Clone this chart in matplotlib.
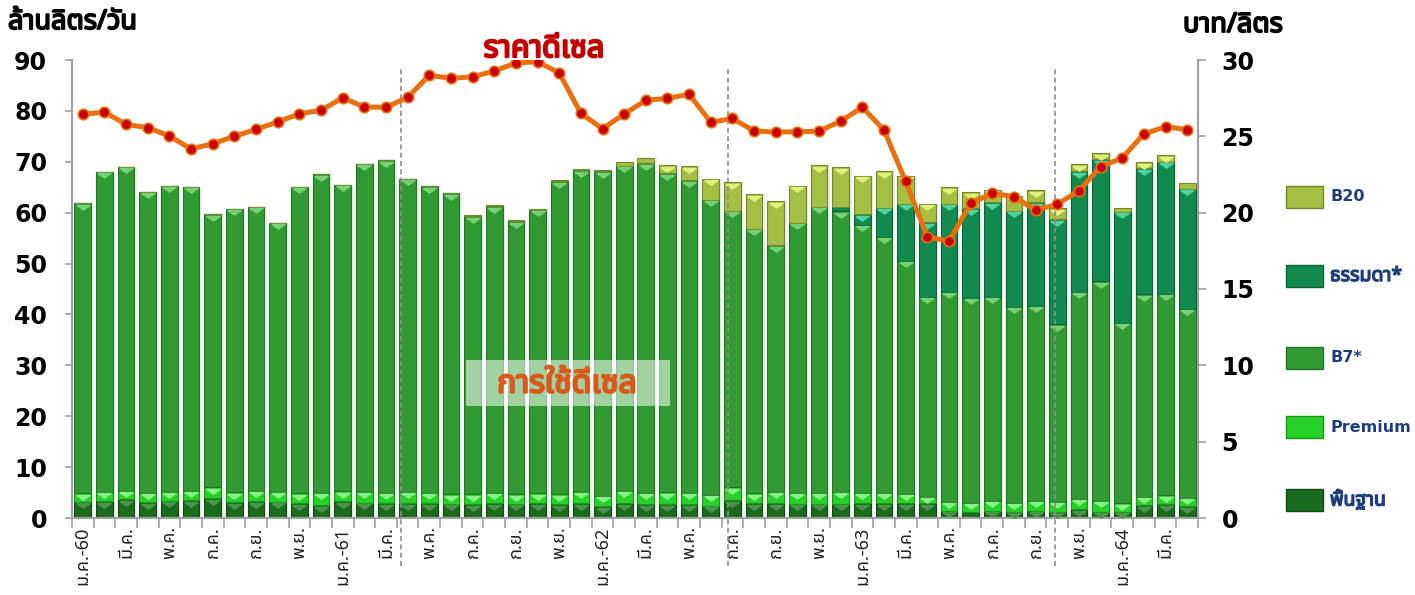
import numpy as np
import matplotlib
matplotlib.use("Agg")
import matplotlib.pyplot as plt
import matplotlib.patheffects as pe
from matplotlib import font_manager
from matplotlib.ft2font import FT2Font
from matplotlib.path import Path
from matplotlib.patches import Rectangle

# monthly diesel use, million litres/day, Jan 2017 (ม.ค.-60) .. Apr 2021
tick_labels = ["ม.ค.-60", "มี.ค.", "พ.ค.", "ก.ค.", "ก.ย.", "พ.ย.",
               "ม.ค.-61", "มี.ค.", "พ.ค.", "ก.ค.", "ก.ย.", "พ.ย.",
               "ม.ค.-62", "มี.ค.", "พ.ค.", "ก.ค.", "ก.ย.", "พ.ย.",
               "ม.ค.-63", "มี.ค.", "พ.ค.", "ก.ค.", "ก.ย.", "พ.ย.",
               "ม.ค.-64", "มี.ค."]

base = [3.2, 3.3, 3.7, 3.1, 3.4, 3.5, 3.9, 3.1, 3.3, 3.2, 2.9, 2.55,
        3.3, 3.0, 2.9, 2.9, 2.9, 2.8, 2.7, 2.9, 2.8, 2.9, 2.7, 2.9,
        2.35, 2.9, 2.7, 2.7, 2.7, 2.4, 3.5, 2.9, 2.9, 2.8, 2.8, 2.8,
        2.9, 2.9, 2.9, 2.9, 1.45, 1.1, 1.45, 1.25, 1.45, 1.25, 1.7, 1.25,
        1.25, 2.55, 2.7, 2.35]
premium = [1.65, 1.9, 1.7, 1.9, 1.8, 1.9, 2.1, 2.0, 2.1, 2.0, 1.95, 2.45,
           2.0, 2.2, 2.1, 2.3, 2.1, 1.9, 2.0, 2.1, 1.9, 1.95, 2.0, 2.3,
           2.05, 2.5, 2.3, 2.4, 2.3, 2.2, 2.5, 2.0, 2.3, 2.2, 2.2, 2.4,
           2.1, 2.1, 1.9, 1.3, 1.75, 1.9, 1.95, 1.75, 1.95, 1.95, 2.1, 2.15,
           1.65, 1.65, 1.75, 1.65]
b7 = [57.0, 62.8, 63.6, 59.1, 60.1, 59.7, 53.7, 55.7, 55.8, 52.8, 60.2, 62.5,
      60.2, 64.4, 65.3, 61.5, 60.2, 59.1, 54.6, 56.3, 53.6, 55.7, 61.5, 63.1,
      63.7, 63.8, 64.7, 62.6, 61.4, 57.9, 54.4, 51.9, 48.4, 53.0, 56.2, 55.1,
      52.6, 50.3, 45.8, 39.3, 41.3, 40.3, 40.1, 38.5, 38.3, 34.9, 40.7, 43.1,
      35.5, 39.8, 39.6, 37.1]
regular = [0] * 35 + [0.9, 2.1, 5.7, 11.2, 14.6, 17.3, 17.6, 18.5, 18.9,
                      20.3, 20.6, 23.6, 24.0, 21.8, 24.7, 26.0, 23.6]
b20 = [0] * 18 + [0.2, 0.2, 0.2, 0.2, 0.2, 0.3, 0.3, 0.7, 1.0, 1.6, 2.7,
                  4.2, 5.6, 6.8, 8.6, 7.3, 8.1, 7.7, 7.6, 7.1, 5.5, 3.7,
                  3.2, 3.1, 2.5, 2.8, 2.4, 2.2, 1.4, 1.2, 0.8, 1.2, 1.2, 1.1]

# diesel price, baht/litre
price = [26.44, 26.59, 25.78, 25.57, 25.02, 24.17, 24.52, 25.0, 25.46, 25.94,
         26.48, 26.7, 27.53, 26.92, 26.9, 27.55, 29.0, 28.8, 28.9, 29.28,
         29.8, 29.89, 29.15, 26.5, 25.5, 26.46, 27.36, 27.49, 27.75, 25.92,
         26.17, 25.35, 25.28, 25.3, 25.33, 26.0, 26.9, 25.41, 22.05, 18.43,
         18.12, 20.61, 21.27, 21.05, 20.17, 20.55, 21.44, 23.01, 23.58, 25.15,
         25.63, 25.44]


def thai_font():
    names = {f.name for f in font_manager.fontManager.ttflist}
    for name in ["Tahoma", "Noto Sans Thai", "Noto Sans Thai UI", "Loma",
                 "Garuda", "Sarabun", "Umpush", "Kinnari", "Norasi"]:
        if name in names:
            return name
    for f in font_manager.fontManager.ttflist:
        try:
            if 0x0E01 in FT2Font(f.fname).get_charmap():
                return f.name
        except Exception:
            continue
    return None


tf = thai_font()
thai = [tf, "DejaVu Sans"] if tf else ["DejaVu Sans"]
plt.rcParams["font.family"] = ["DejaVu Sans"]


def heavy(color, w=1.3):
    # Thai font has no bold face here, thicken with a stroke
    return [pe.withStroke(linewidth=w, foreground=color)]


W, H = 1415, 595


def fx(px):
    return px / W


def fy(py):
    return 1 - py / H


fig = plt.figure(figsize=(W / 100, H / 100), dpi=100)
ax = fig.add_axes([fx(72), fy(518), fx(1198) - fx(72), fy(60) - fy(518)])

x = np.arange(len(price))
layers = [
    ("พื้นฐาน", base, "#1B6B1E", "#0F4A14", "#4A954C"),
    ("Premium", premium, "#27D127", "#179A17", "#86F286"),
    ("B7*", b7, "#329A32", "#237526", "#74D174"),
    ("ธรรมดา*", regular, "#118A4E", "#0A6236", "#4FD3A0"),
    ("B20", b20, "#A5BF45", "#74872A", "#E0F078"),
]

# flat "v" bevel drawn near the top of each segment
tri = Path([(-1, 0), (1, 0), (0, -0.7), (-1, 0)])

totals = np.sum([np.asarray(v) for _, v, *_ in layers], axis=0)
ax.bar(x + 0.06, totals, width=0.9, color="#DADADA", alpha=0.45, zorder=1)

bottom = np.zeros(len(x))
for name, vals, face, edge, hi in layers:
    vals = np.asarray(vals, dtype=float)
    ax.bar(x, vals, 0.77, bottom=bottom, color=face, edgecolor=edge,
           linewidth=0.8, zorder=2)
    tops = bottom + vals
    m = vals >= 1.2
    ax.plot(x[m], tops[m] - 0.3, linestyle="none", marker=tri,
            markersize=9.5, color=hi, zorder=3)
    bottom = tops

# vertical dividers
for pos in [14.7, 29.8, 44.9]:
    ax.plot([pos, pos], [-0.105, 0.983], transform=ax.get_xaxis_transform(),
            color="#8C8C8C", lw=1.2, ls=(0, (3, 2)), clip_on=False, zorder=4)

ax.set_xlim(-0.5, len(x) - 0.5)
ax.set_ylim(0, 90)
ax.set_yticks(range(0, 91, 10))
ax.set_yticklabels([str(v) for v in range(0, 91, 10)], fontsize=17,
                   fontweight="bold")
ax.set_xticks(x[::2])
ax.set_xticklabels(tick_labels, rotation=90, fontsize=13, family=thai,
                   color="#222222")
ax.set_xticks(np.arange(-0.5, len(x), 1), minor=True)
ax.tick_params(axis="x", which="major", length=0, pad=6)
ax.tick_params(axis="x", which="minor", length=7, color="#A0A0A0", width=1.2)
ax.tick_params(axis="y", length=5, color="#A0A0A0", width=1.2, pad=13)
for s in ["top", "right"]:
    ax.spines[s].set_visible(False)
for s in ["left", "bottom"]:
    ax.spines[s].set_color("#A0A0A0")
    ax.spines[s].set_linewidth(1.5)

ax2 = ax.twinx()
ax2.plot(x, price, color="#E8700F", lw=3.6, marker="o", ms=7.5,
         mfc="#C80000", mec="#E8700F", mew=1.2, zorder=5)
ax2.set_ylim(0, 30)
ax2.set_yticks(range(0, 31, 5))
ax2.set_yticklabels([str(v) for v in range(0, 31, 5)], fontsize=17,
                    fontweight="bold")
ax2.tick_params(axis="y", length=6, color="#A0A0A0", width=1.2, pad=11)
for s in ["top", "left", "bottom"]:
    ax2.spines[s].set_visible(False)
ax2.spines["right"].set_color("#A0A0A0")
ax2.spines["right"].set_linewidth(1.5)

# titles
fig.text(fx(8), fy(22), "ล้านลิตร/วัน", family=thai, fontsize=19.5,
         fontweight="bold", ha="left", va="center", path_effects=heavy("black"))
fig.text(fx(1183), fy(25), "บาท/ลิตร", family=thai, fontsize=19.5,
         fontweight="bold", ha="left", va="center", path_effects=heavy("black"))
fig.text(fx(544), fy(49), "ราคาดีเซล", family=thai, fontsize=22,
         fontweight="bold", color="#C00000", ha="center", va="center",
         path_effects=heavy("#C00000", 1.6))

fig.patches.append(Rectangle((fx(466), fy(406)), fx(670) - fx(466),
                             fy(360) - fy(406), transform=fig.transFigure,
                             facecolor="white", alpha=0.55, edgecolor="none",
                             zorder=5))
fig.text(fx(567), fy(384), "การใช้ดีเซล", family=thai, fontsize=23,
         fontweight="bold", color="#D9581A", ha="center", va="center",
         zorder=6, path_effects=heavy("#D9581A", 1.6))

# legend
legend_y = [197, 276, 358, 427, 500]
for (name, _, face, edge, _), yc in zip(layers[::-1], legend_y):
    fig.patches.append(Rectangle((fx(1286), fy(yc + 11)), fx(37),
                                 fy(0) - fy(22), transform=fig.transFigure,
                                 facecolor=face, edgecolor=edge, lw=1))
    if name.isascii():
        fig.text(fx(1330), fy(yc), name, fontsize=11.5, fontweight="bold",
                 color="#1F3D7A", ha="left", va="center")
    else:
        fig.text(fx(1330), fy(yc), name, family=thai, fontsize=14,
                 fontweight="bold", color="#1F3D7A", ha="left", va="center",
                 path_effects=heavy("#1F3D7A", 1.0))

fig.savefig("out.png", dpi=100)
